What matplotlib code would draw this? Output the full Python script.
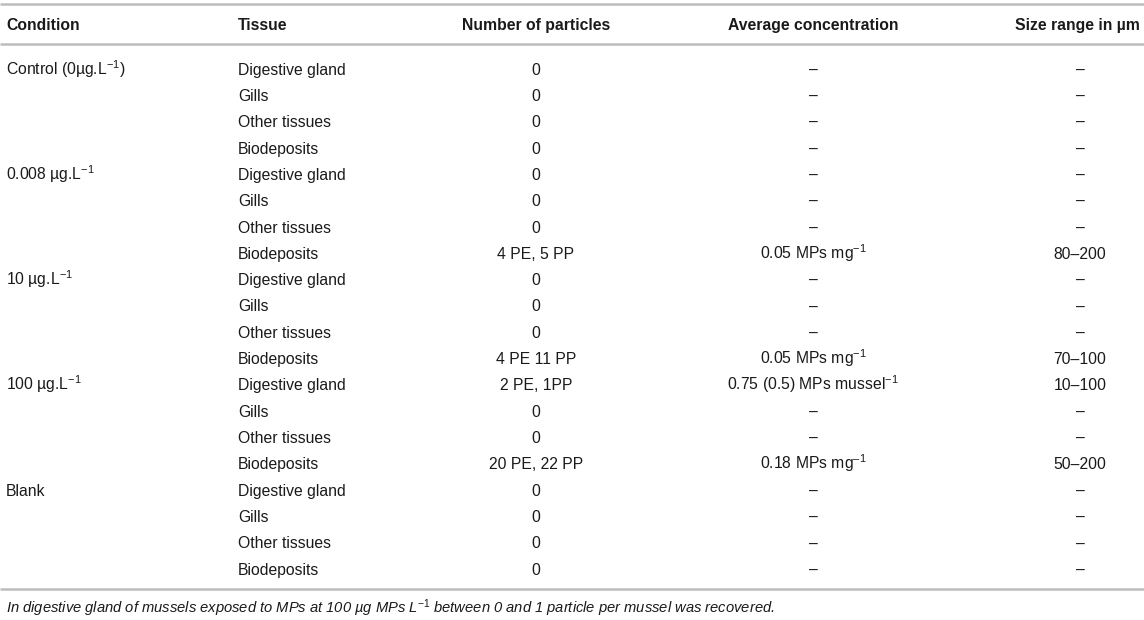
import matplotlib
matplotlib.use("Agg")
import matplotlib.pyplot as plt

plt.rcParams['font.family'] = ['Liberation Sans', 'DejaVu Sans']
plt.rcParams['mathtext.fontset'] = 'custom'
plt.rcParams['mathtext.rm'] = 'Liberation Sans'
plt.rcParams['mathtext.it'] = 'Liberation Sans:italic'
plt.rcParams['mathtext.bf'] = 'Liberation Sans:bold'

headers = ["Condition", "Tissue", "Number of particles", "Average concentration", "Size range in µm"]
conditions = ["Control (0µg.L$^{-1}$)", "", "", "",
              "0.008 µg.L$^{-1}$", "", "", "",
              "10 µg.L$^{-1}$", "", "", "",
              "100 µg.L$^{-1}$", "", "", "",
              "Blank", "", "", ""]
tissues = ["Digestive gland", "Gills", "Other tissues", "Biodeposits"] * 5
particles = ["0", "0", "0", "0",
             "0", "0", "0", "4 PE, 5 PP",
             "0", "0", "0", "4 PE 11 PP",
             "2 PE, 1PP", "0", "0", "20 PE, 22 PP",
             "0", "0", "0", "0"]
concentration = ["–", "–", "–", "–",
                 "–", "–", "–", "0.05 MPs mg$^{-1}$",
                 "–", "–", "–", "0.05 MPs mg$^{-1}$",
                 "0.75 (0.5) MPs mussel$^{-1}$", "–", "–", "0.18 MPs mg$^{–1}$",
                 "–", "–", "–", "–"]
size_range = ["–", "–", "–", "–",
              "–", "–", "–", "80–200",
              "–", "–", "–", "70–100",
              "10–100", "–", "–", "50–200",
              "–", "–", "–", "–"]
footnote = "In digestive gland of mussels exposed to MPs at 100 µg MPs L$^{-1}$ between 0 and 1 particle per mussel was recovered."

W, H = 1144, 620
fig = plt.figure(figsize=(W / 100, H / 100), dpi=100)
ax = fig.add_axes([0, 0, 1, 1])
ax.set_xlim(0, W)
ax.set_ylim(H, 0)
ax.axis('off')

fs = 11.3
txt_color = '#1a1a1a'
line_color = '#bdbdbd'

# rules
for y in (4, 44, 589):
    ax.plot([0, W], [y, y], color=line_color, lw=1.8, solid_capstyle='butt')

# header
hy = 29.6
kw = dict(va='baseline', fontsize=fs, fontweight='bold', color=txt_color)
ax.text(6, hy, headers[0], ha='left', **kw)
ax.text(238, hy, headers[1], ha='left', **kw)
ax.text(536, hy, headers[2], ha='center', **kw)
ax.text(813, hy, headers[3], ha='center', **kw)
ax.text(1140, hy, headers[4], ha='right', **kw)

y0, dy = 74.6, 26.32
rk = dict(va='baseline', fontsize=fs, color=txt_color)
for i in range(len(tissues)):
    y = y0 + i * dy
    ax.text(6, y, conditions[i], ha='left', **rk)
    ax.text(238, y, tissues[i], ha='left', **rk)
    ax.text(536, y, particles[i], ha='center', **rk)
    ax.text(813, y, concentration[i], ha='center', **rk)
    ax.text(1080, y, size_range[i], ha='center', **rk)

ax.text(6, 613, footnote, ha='left', va='baseline', fontsize=10.6, style='italic', color=txt_color)

fig.savefig("out.png", dpi=100)
